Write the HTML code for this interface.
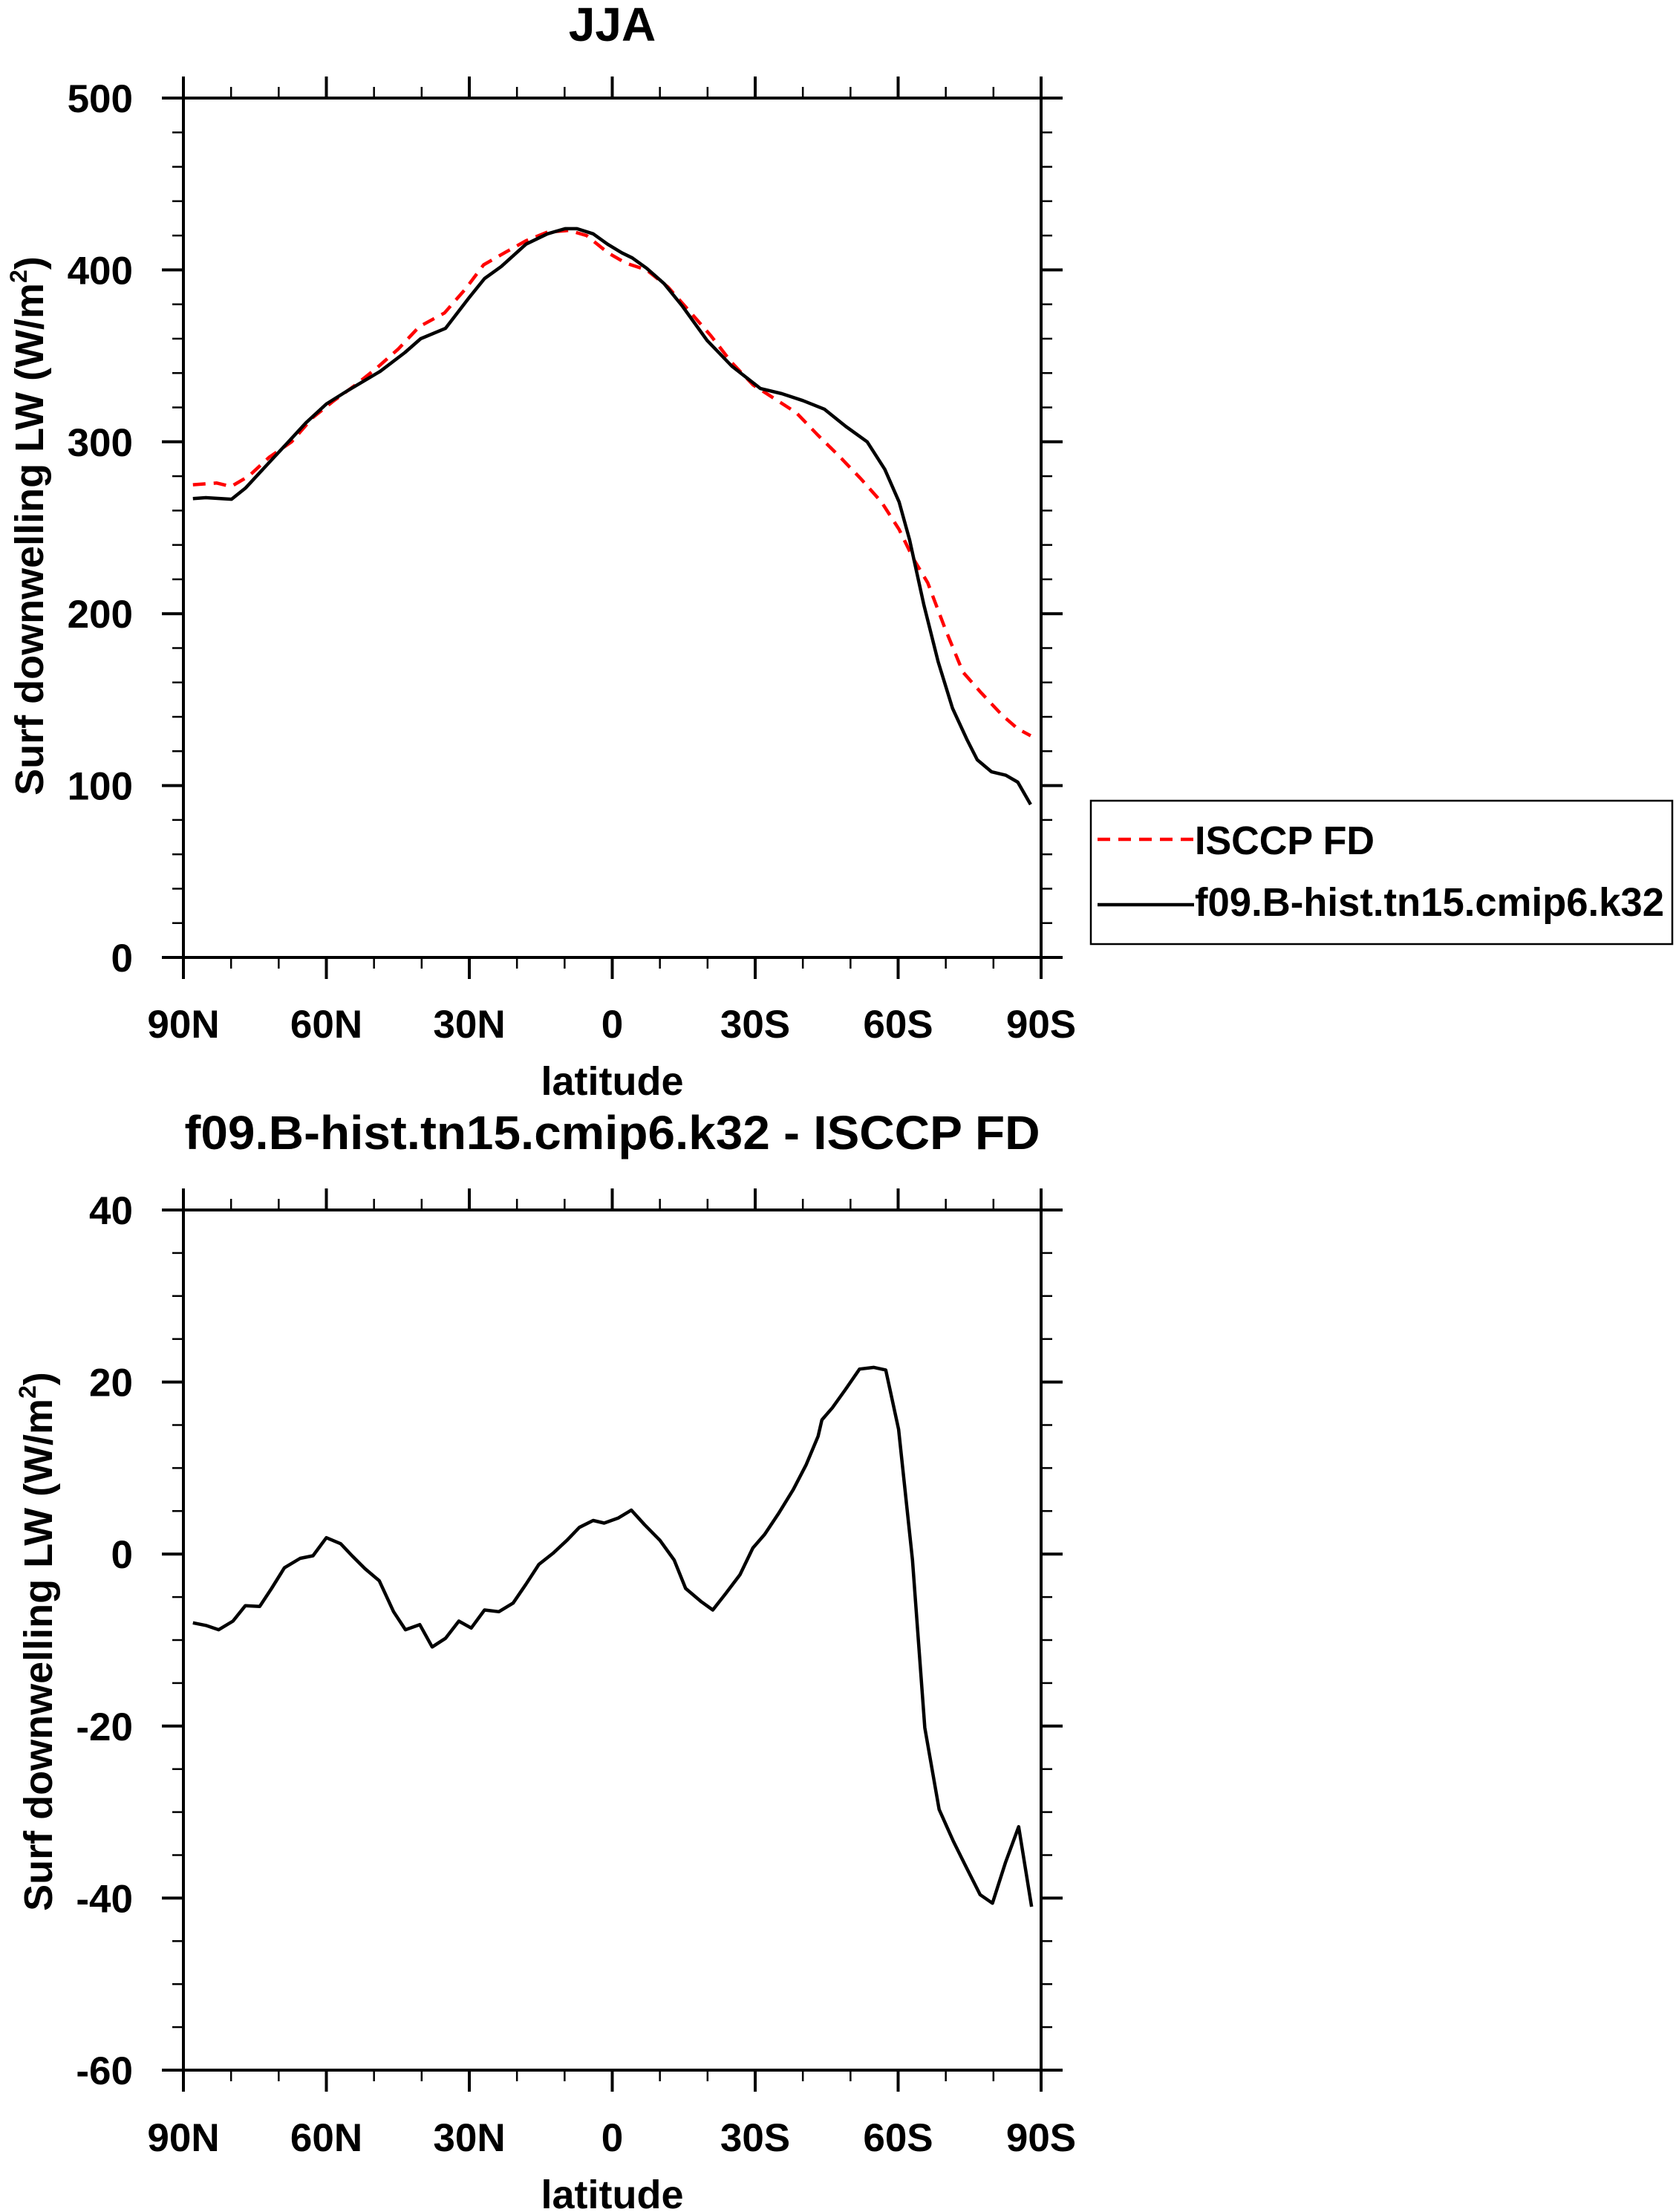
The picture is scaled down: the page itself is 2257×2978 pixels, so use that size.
<!DOCTYPE html>
<html><head><meta charset="utf-8"><style>
html,body{margin:0;padding:0;background:#fff;}
svg{display:block;font-family:"Liberation Sans",sans-serif;font-weight:bold;}
</style></head><body>
<svg id="chart" width="2257" height="2978" viewBox="0 0 2257 2978" xmlns="http://www.w3.org/2000/svg">
<g id="top"></g>
<g id="bot"></g>
<g id="legend">
 <rect x="1469" y="1078" width="783" height="193" fill="none" stroke="#000" stroke-width="2.5"/>
 <line x1="1478" y1="1130" x2="1608" y2="1130" stroke="#f00" stroke-width="4.5" stroke-dasharray="17,11"/>
 <text x="1609" y="1150" font-size="54" textLength="242" lengthAdjust="spacingAndGlyphs">ISCCP FD</text>
 <line x1="1478" y1="1218" x2="1608" y2="1218" stroke="#000" stroke-width="4.5"/>
 <text x="1609" y="1233" font-size="54" textLength="632" lengthAdjust="spacingAndGlyphs">f09.B-hist.tn15.cmip6.k32</text>
</g>
</svg>
<script>
const modelLat=[88,85.3,79.9,77,72,67.3,64.3,60,55.4,48.7,43.5,40.2,35,30,26.8,23.3,18.1,13.6,9.9,7.4,4,1,-2,-4.2,-7.2,-10.9,-14.7,-19.9,-25.1,-31.1,-35.6,-40,-44.5,-49,-53.5,-57.2,-60.2,-62.4,-65.4,-68.4,-71.4,-74.4,-76.6,-79.6,-82.6,-85.1,-87.8];
const modelVal=[267,267.5,266.6,273,288,302,311,322,330,341,352,360,366,384,395,402,415,421,424,424,421,415,410,407,401,392,379,359,344,331,328,324,319,309,300,284,265,243,205,172,145,127,115,108,106,102,89];
const obsLat=[88,83,80,76.3,72,67.3,62.9,58.4,53.9,49.4,44.9,40.5,35.2,30.8,27,22.6,18.1,13.6,9.1,5.4,0.9,-2.8,-7.2,-11.7,-16.2,-20.6,-25.1,-29.6,-34.1,-38.6,-43.1,-47.5,-52,-56.5,-60.2,-63.2,-66.2,-69.9,-73.6,-77.4,-81.8,-85.1,-87.8];
const obsVal=[275,276,274,280,291,300,314,324,333,343,354,367,375,389,403,410,417,422,423,420,410,404,400,390,376,362,346,333,325,317,304,292,279,265,249,232,218,191,166,154,141,133,129];
const diffLat=[88,85.3,82.6,79.6,77,74,71.5,68.8,65.5,62.8,60,57,54.6,51.9,48.9,45.9,43.4,40.4,37.8,35,32.2,29.6,26.8,23.8,20.8,18.1,15.4,12.4,9.5,6.9,4,1.7,-1.3,-4,-6.8,-10,-13,-15.4,-18.6,-21.1,-23.8,-26.8,-29.5,-32,-35,-38,-40.7,-43.2,-44,-46.2,-48.9,-51.9,-54.9,-57.4,-60.1,-63,-65.6,-68.6,-71.6,-74.2,-77.2,-79.8,-82.5,-85.3,-88];
const diffVal=[-8,-8.3,-8.8,-7.8,-6,-6.1,-4,-1.6,-0.5,-0.2,1.9,1.2,-0.2,-1.7,-3.1,-6.7,-8.8,-8.2,-10.8,-9.8,-7.8,-8.6,-6.5,-6.7,-5.7,-3.5,-1.2,0.1,1.6,3.1,3.9,3.6,4.2,5.1,3.4,1.6,-0.7,-4,-5.5,-6.5,-4.6,-2.4,0.7,2.3,4.8,7.5,10.4,13.7,15.6,17,19.1,21.5,21.7,21.4,14.5,-0.7,-20.2,-29.7,-33.4,-36.3,-39.6,-40.6,-35.9,-31.7,-41];
const xTicks=[90,60,30,0,-30,-60,-90];
const xTickLabels=["90N","60N","30N","0","30S","60S","90S"];
const topYTicks=[0,100,200,300,400,500];
const botYTicks=[-60,-40,-20,0,20,40];

const NS="http://www.w3.org/2000/svg";
const L=247,R=1402;
function xs(lat){return L+(90-lat)/180*(R-L);}
function mk(parent,tag,attrs,text){const e=document.createElementNS(NS,tag);for(const k in attrs)e.setAttribute(k,attrs[k]);if(text!==undefined)e.textContent=text;parent.appendChild(e);return e;}

function panel(g,T,B,ymin,ymax,ymajor,yminor,yticks,labelY,latY,titleY,title,titleLen,yTitleX,yTitleY){
  const ys=v=>B-(v-ymin)/(ymax-ymin)*(B-T);
  const fr=mk(g,'rect',{x:L,y:T,width:R-L,height:B-T,fill:'none',stroke:'#000','stroke-width':4});
  
  
  for(let v=ymin;v<=ymax+1e-9;v+=yminor){
    const major=Math.abs(v/ymajor-Math.round(v/ymajor))<1e-6;
    const len=major?29:15;
    const a=mk(g,'line',{x1:L,x2:L-len,y1:ys(v),y2:ys(v),stroke:'#000','stroke-width':major?4:2.5});
    
    
    const b=mk(g,'line',{x1:R,x2:R+len,y1:ys(v),y2:ys(v),stroke:'#000','stroke-width':major?4:2.5});
    
    
  }
  yticks.forEach(v=>{
    const t=mk(g,'text',{x:179,y:ys(v)+19,'font-size':53,'text-anchor':'end'},String(v));
    
    
  });
  for(let lat=90;lat>=-90;lat-=10){
    const major=lat%30===0;
    const len=major?29:15;
    const a=mk(g,'line',{x1:xs(lat),x2:xs(lat),y1:T,y2:T-len,stroke:'#000','stroke-width':major?4:2.5});
    
    
    const b=mk(g,'line',{x1:xs(lat),x2:xs(lat),y1:B,y2:B+len,stroke:'#000','stroke-width':major?4:2.5});
    
    
  }
  xTicks.forEach((lat,i)=>{
    const t=mk(g,'text',{x:xs(lat),y:labelY,'font-size':53,'text-anchor':'middle'},xTickLabels[i]);
    
    
  });
  const xl=mk(g,'text',{x:(L+R)/2,y:latY,'font-size':54,'text-anchor':'middle'},'latitude');
  
  
  const tt=mk(g,'text',{x:(L+R)/2,y:titleY,'font-size':64,'text-anchor':'middle'},title);
  if(titleLen){tt.setAttribute('textLength',titleLen);tt.setAttribute('lengthAdjust','spacingAndGlyphs');}
  
  
  const yt=mk(g,'text',{x:0,y:0,'font-size':54,'text-anchor':'middle',transform:`translate(${yTitleX},${yTitleY}) rotate(-90)`});
  
  
  mk(yt,'tspan',{},'Surf downwelling LW (W/m');
  mk(yt,'tspan',{'font-size':32,dy:-22},'2');
  mk(yt,'tspan',{dy:22},')');
  return ys;
}
function series(g,ys,lats,vals,color,dash,name){
  const d=lats.map((la,i)=>(i?'L':'M')+xs(la).toFixed(1)+','+ys(vals[i]).toFixed(1)).join(' ');
  const p=mk(g,'path',{d:d,fill:'none',stroke:color,'stroke-width':4.5,'stroke-linejoin':'round'});
  if(dash)p.setAttribute('stroke-dasharray',dash);
  
  
}
const gt=document.getElementById('top'),gb=document.getElementById('bot');
const ysT=panel(gt,132,1289,0,500,100,20,topYTicks,1397,1474,55,'JJA',0,58,708);
series(gt,ysT,obsLat,obsVal,'#f00','17,11','isccp-line');
series(gt,ysT,modelLat,modelVal,'#000',null,'model-line');
const ysB=panel(gb,1629,2787,-60,40,20,5,botYTicks,2896,2973,1547,'f09.B-hist.tn15.cmip6.k32 - ISCCP FD',1152,70,2210);
series(gb,ysB,diffLat,diffVal,'#000',null,'difference-line');
</script>
</body></html>
